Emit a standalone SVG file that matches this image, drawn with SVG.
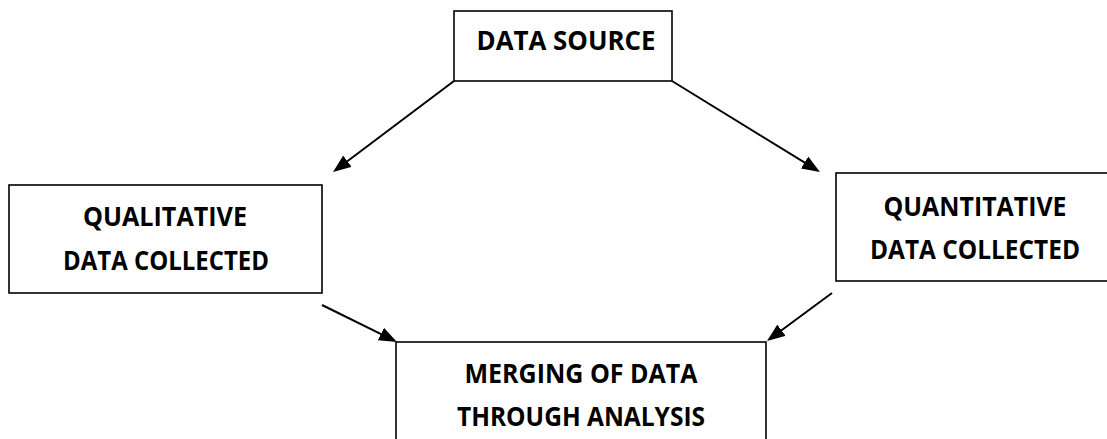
<svg xmlns="http://www.w3.org/2000/svg" width="1107" height="439" viewBox="0 0 1107 439">
  <style>
    .box { fill: #ffffff; stroke: #000000; stroke-width: 1.6; }
    .label { font-family: "Open Sans", "Liberation Sans", sans-serif; font-weight: 700; font-size: 26px; fill: #000000; text-anchor: middle; }
    .link { stroke: #000000; stroke-width: 2; fill: none; marker-end: url(#head); }
  </style>
  <defs>
    <marker id="head" viewBox="0 0 18 14" refX="15" refY="7" markerWidth="18" markerHeight="14" markerUnits="userSpaceOnUse" orient="auto">
      <path d="M0,0 L18,7 L0,14 Z" fill="#000000"/>
    </marker>
  </defs>
  <rect width="1107" height="439" fill="#ffffff"/>

  <g id="connectors">
    <line class="link" x1="454" y1="81" x2="335.4" y2="170.2"/>
    <line class="link" x1="672" y1="81" x2="817.4" y2="170.4"/>
    <line class="link" x1="322" y1="305" x2="394.3" y2="340.7"/>
    <line class="link" x1="832" y1="293" x2="769.4" y2="339.2"/>
  </g>

  <g id="data-source">
    <rect class="box" x="454" y="11" width="218" height="70"/>
    <text class="label" x="566" y="49.5" textLength="179" lengthAdjust="spacingAndGlyphs">DATA SOURCE</text>
  </g>

  <g id="qualitative">
    <rect class="box" x="9" y="185" width="313" height="108"/>
    <text class="label" x="165" y="226" textLength="164" lengthAdjust="spacingAndGlyphs">QUALITATIVE</text>
    <text class="label" x="166" y="269.5" textLength="206" lengthAdjust="spacingAndGlyphs">DATA COLLECTED</text>
  </g>

  <g id="quantitative">
    <rect class="box" x="836" y="173" width="290" height="108"/>
    <text class="label" x="975" y="215.5" textLength="183" lengthAdjust="spacingAndGlyphs">QUANTITATIVE</text>
    <text class="label" x="975" y="258.5" textLength="210" lengthAdjust="spacingAndGlyphs">DATA COLLECTED</text>
  </g>

  <g id="merging">
    <rect class="box" x="396" y="342" width="370" height="120"/>
    <text class="label" x="581" y="382.5" textLength="233" lengthAdjust="spacingAndGlyphs">MERGING OF DATA</text>
    <text class="label" x="581" y="425.5" textLength="248" lengthAdjust="spacingAndGlyphs">THROUGH ANALYSIS</text>
  </g>
</svg>
